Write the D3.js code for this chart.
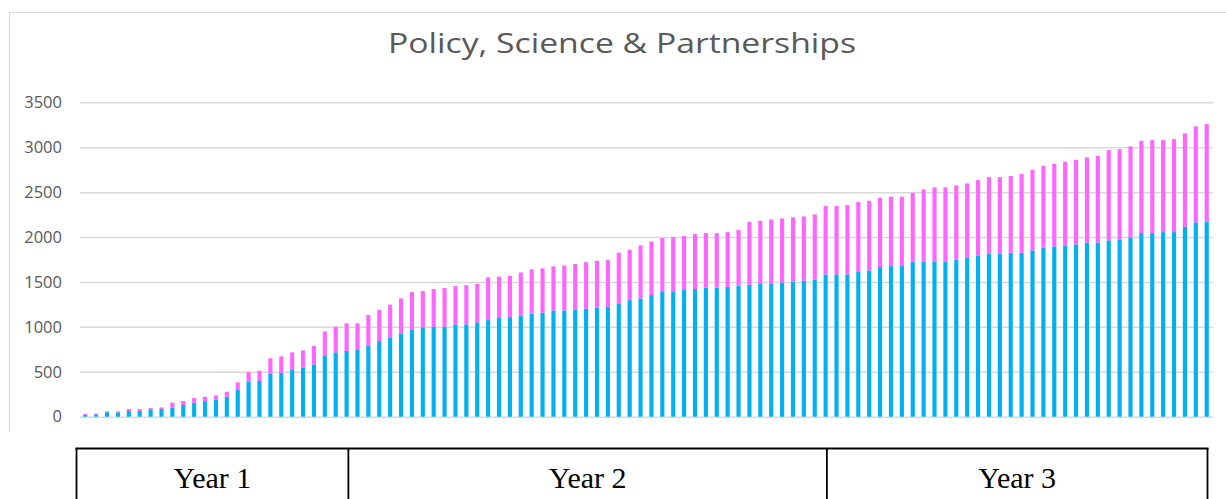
<!DOCTYPE html>
<html>
<head>
<meta charset="utf-8">
<script src="https://cdn.jsdelivr.net/npm/d3@7"></script>
<style>
  body { margin: 0; background: #fff; }
  svg { display: block; }
</style>
</head>
<body>
<svg id="chart" width="1226" height="499"></svg>
<script>
const chartTitle = "Policy, Science & Partnerships";

// blue part (lower) of each weekly bar
const blueValues = [
  20, 25, 50, 48, 63, 63, 75, 85, 104, 130,
  156, 174, 193, 222, 304, 386, 397, 482, 490, 519,
  545, 582, 675, 716, 731, 742, 787, 842, 883, 928,
  972, 987, 1002, 1002, 1028, 1028, 1050, 1076, 1098, 1109,
  1124, 1146, 1158, 1183, 1183, 1195, 1202, 1213, 1224, 1261,
  1298, 1317, 1354, 1388, 1388, 1410, 1421, 1436, 1436, 1443,
  1458, 1469, 1484, 1484, 1495, 1506, 1514, 1525, 1584, 1584,
  1584, 1618, 1629, 1666, 1677, 1677, 1725, 1725, 1725, 1725,
  1747, 1770, 1792, 1814, 1814, 1825, 1825, 1851, 1881, 1896,
  1907, 1918, 1940, 1940, 1963, 1974, 1996, 2044, 2044, 2055,
  2055, 2115, 2163, 2170
];

// bar totals (blue + pink)
const totalValues = [
  30, 35, 60, 60, 85, 85, 96, 104, 156, 174,
  208, 222, 237, 278, 382, 497, 512, 650, 672, 716,
  738, 787, 950, 1002, 1039, 1039, 1132, 1191, 1247, 1317,
  1388, 1399, 1421, 1432, 1454, 1465, 1480, 1551, 1558, 1569,
  1606, 1640, 1651, 1673, 1684, 1699, 1721, 1736, 1747, 1825,
  1859, 1907, 1951, 1989, 2000, 2011, 2033, 2044, 2044, 2055,
  2078, 2170, 2181, 2196, 2207, 2219, 2230, 2252, 2345, 2345,
  2356, 2389, 2404, 2437, 2449, 2449, 2493, 2530, 2553, 2553,
  2575, 2597, 2634, 2667, 2667, 2679, 2701, 2749, 2794, 2816,
  2838, 2860, 2886, 2905, 2968, 2979, 3009, 3072, 3079, 3079,
  3090, 3154, 3232, 3258
];

const pinkValues = totalValues.map((t, i) => t - blueValues[i]);
const weeks = blueValues.map((d, i) => i + 1);

const yTicks = [0, 500, 1000, 1500, 2000, 2500, 3000, 3500];
const yearLabels = ["Year 1", "Year 2", "Year 3"];
const yearEndWeek = [25, 69, 104];

const data = weeks.map((w, i) => ({week: w, blue: blueValues[i], pink: pinkValues[i]}));

const svg = d3.select("#chart");

// chart frame (cropped at the bottom and right)
svg.append("path")
    .attr("d", "M9.5,432V12.5H1226")
    .attr("fill", "none")
    .attr("stroke", "#d9d9d9")
    .attr("stroke-width", 1.2);

svg.append("text")
    .attr("x", 622)
    .attr("y", 53)
    .attr("text-anchor", "middle")
    .attr("font-family", "Open Sans, sans-serif")
    .attr("font-size", 28)
    .attr("fill", "#595959")
    .attr("textLength", 468)
    .attr("lengthAdjust", "spacingAndGlyphs")
    .text(chartTitle);

const x = d3.scaleBand()
    .domain(weeks)
    .range([79.85, 1212.15])
    .paddingInner(0.62)
    .paddingOuter(0.31);

const y = d3.scaleLinear()
    .domain([0, 3500])
    .range([416.7, 102.3]);

// gridlines + labels
const yAxis = svg.append("g")
    .attr("transform", "translate(80,0)")
    .call(d3.axisLeft(y).tickValues(yTicks).tickSize(-1133).tickPadding(18).tickFormat(d3.format("d")));
yAxis.select(".domain").remove();
yAxis.selectAll(".tick line").attr("stroke", "#d9d9d9").attr("stroke-width", 1.5);
yAxis.selectAll(".tick text")
    .attr("font-family", "Open Sans, sans-serif")
    .attr("font-size", 16.5)
    .attr("fill", "#595959");

const stack = d3.stack().keys(["blue", "pink"]);
const colors = {blue: "#00b0f0", pink: "#ff66ff"};

svg.append("g")
  .selectAll("g")
  .data(stack(data))
  .join("g")
    .attr("fill", d => colors[d.key])
  .selectAll("rect")
  .data(d => d)
  .join("rect")
    .attr("x", d => x(d.data.week))
    .attr("width", x.bandwidth())
    .attr("y", d => y(d[1]))
    .attr("height", d => y(d[0]) - y(d[1]));

// year table below the chart
const tableX = d3.scaleLinear().domain([0, 104]).range([76.5, 1207.5]);
const edges = [0].concat(yearEndWeek);
const table = svg.append("g");
table.append("line")
    .attr("x1", tableX(0) - 1).attr("x2", tableX(104) + 1)
    .attr("y1", 448.5).attr("y2", 448.5)
    .attr("stroke", "#000").attr("stroke-width", 2);
table.selectAll(".vline")
    .data(edges)
    .join("line")
    .attr("x1", d => tableX(d)).attr("x2", d => tableX(d))
    .attr("y1", 448).attr("y2", 499)
    .attr("stroke", "#000").attr("stroke-width", 1.8);
table.selectAll(".ylab")
    .data(yearLabels)
    .join("text")
    .attr("x", (d, i) => (tableX(edges[i]) + tableX(edges[i + 1])) / 2)
    .attr("y", 488)
    .attr("text-anchor", "middle")
    .attr("font-family", "Liberation Serif, Times New Roman, serif")
    .attr("font-size", 30)
    .attr("fill", "#000")
    .text(d => d);
</script>
</body>
</html>
